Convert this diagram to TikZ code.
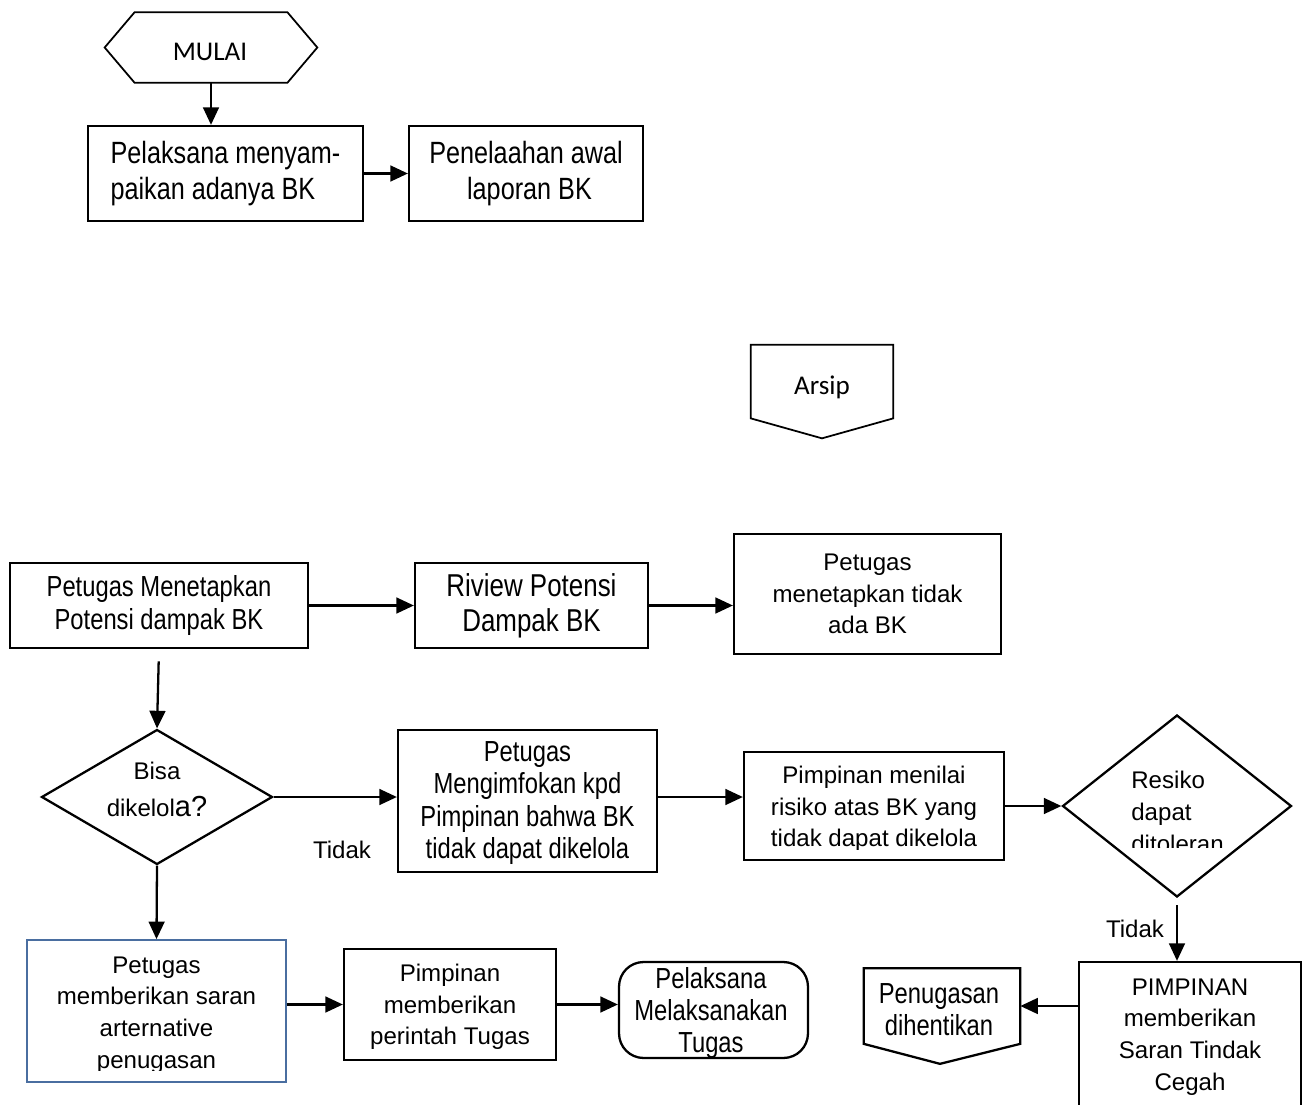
\documentclass[tikz,border=0pt]{standalone}
\usepackage{fontspec}
\setmainfont{Liberation Sans}
\newfontfamily\narrowfont{Liberation Sans}[FakeStretch=0.82]
\newfontfamily\calfont{Carlito}
\usetikzlibrary{arrows.meta,shapes.geometric,calc}
\definecolor{boxblue}{RGB}{74,110,160}
\tikzset{
  box/.style={draw, line width=1.3pt, inner sep=0pt, align=center},
  dia/.style={draw, diamond, line width=1.3pt, inner sep=0pt},
  arr/.style={-{Triangle[length=10pt,width=9pt]}, line width=1.3pt},
  reg/.style={font=\fontsize{13.7}{18}\selectfont},
  nar/.style={font=\narrowfont\fontsize{16.5}{18.3}\selectfont},
  big/.style={font=\narrowfont\fontsize{17.5}{20.5}\selectfont},
  cal/.style={font=\calfont\fontsize{15.4}{18}\selectfont},
  txt/.style={inner sep=0pt, align=center},
}
\begin{document}
\begin{tikzpicture}[x=0.02cm,y=-0.02cm]
\useasboundingbox[fill=white] (0,0) rectangle (1309,1105);

% MULAI
\node[minimum width=3.04cm, minimum height=1.4cm, inner sep=0pt] (mulai) at (211,47.5) {};
\draw[line width=1pt] (mulai.north west) -- (mulai.north east) -- ($(mulai.east)+(30,0)$)
  -- (mulai.south east) -- (mulai.south west) -- ($(mulai.west)+(-30,0)$) -- cycle;
\node[cal, txt] (mulait) at (210,52) {MULAI};

\node[box, big, align=left, minimum width=5.5cm, minimum height=1.9cm] (A) at (225.5,173.5) {Pelaksana menyam-\\paikan adanya BK};
\node[box, big, minimum width=4.68cm, minimum height=1.9cm] (B) at (526,173.5) {Penelaahan awal\\\ laporan BK};

% Arsip
\node[minimum width=2.84cm, minimum height=1.46cm, inner sep=0pt] (arsip) at (822,381.5) {};
\draw[line width=1pt] (arsip.south west) -- (arsip.north west) -- (arsip.north east) -- (arsip.south east)
  -- ($(arsip.south)+(0,20)$) -- cycle;
\node[cal, txt] (arsipt) at (822,387) {Arsip};

% Row 1
\node[box, nar, minimum width=5.96cm, minimum height=1.7cm] (C) at (159,605.5) {Petugas Menetapkan\\Potensi dampak BK};
\node[box, font=\narrowfont\fontsize{18}{20}\selectfont, minimum width=4.66cm, minimum height=1.7cm] (D) at (531.5,605.5) {Riview Potensi\\Dampak BK};
\node[box, reg, minimum width=5.34cm, minimum height=2.4cm] (E) at (867.5,594) {Petugas\\menetapkan tidak\\ada BK};

% Row 2
\node[dia, minimum width=4.62cm, minimum height=2.7cm] (F) at (157,797) {};
\node[txt, font=\fontsize{13.7}{21}\selectfont] (Ft) at (157,789) {Bisa\\dikelol{\fontsize{16.5}{21}\selectfont a?}};
\node[box, nar, minimum width=5.18cm, minimum height=2.84cm] (G) at (527.5,801) {};
\node[txt, nar] (Gt) at (527.5,803) {Petugas\\Mengimfokan kpd\\Pimpinan bahwa BK\\tidak dapat dikelola};
\node[box, minimum width=5.2cm, minimum height=2.16cm] (H) at (874,806) {};
\begin{scope}
  \clip (744,752) rectangle (1004,849);
  \node[txt, reg] (Ht) at (874,809) {Pimpinan menilai\\risiko atas BK yang\\tidak dapat dikelola};
\end{scope}
\node[dia, minimum width=4.58cm, minimum height=3.64cm] (I) at (1177,806) {};
\begin{scope}
  \clip (1062,715) rectangle (1291,847);
  \node[txt, reg, align=left, anchor=west] (It) at (1131,812) {Resiko\\dapat\\ditoleran};
\end{scope}
\node[reg, inner sep=0pt] (t1) at (342,850) {Tidak};
\node[reg, inner sep=0pt] (t2) at (1135,929) {Tidak};

% Row 3
\node[box, draw=boxblue, line width=1pt, minimum width=5.18cm, minimum height=2.84cm] (L) at (156.5,1011) {};
\begin{scope}
  \clip (27,940) rectangle (286,1070);
  \node[txt, reg] (Lt) at (156.5,1015) {Petugas\\memberikan saran\\arternative\\penugasan};
\end{scope}
\node[box, reg, minimum width=4.24cm, minimum height=2.22cm] (M) at (450,1004.5) {};
\node[txt, reg] (Mt) at (450,1007) {Pimpinan\\memberikan\\perintah Tugas};
\node[box, rounded corners=14pt, minimum width=3.78cm, minimum height=1.92cm] (N) at (713.5,1010) {};
\node[txt, nar] (Nt) at (711,1013) {Pelaksana\\Melaksanakan\\Tugas};
\node[txt, minimum width=3.12cm, minimum height=1.5cm] (K) at (942,1006) {};
\draw[line width=1.3pt] (K.south west) -- (K.north west) -- (K.north east) -- (K.south east)
  -- ($(K.south)+(-2,20)$) -- cycle;
\node[txt, nar] (Kt) at (939,1010) {Penugasan\\dihentikan};
\node[box, reg, minimum width=4.44cm, minimum height=2.92cm] (J) at (1190,1035) {};
\node[txt, reg] (Jt) at (1190,1037) {PIMPINAN\\memberikan\\Saran Tindak\\Cegah};

% Connectors
\draw[arr] (mulai.south) -- (mulai.south |- A.north);
\draw[arr] (A.east) -- (B.west);
\draw[arr] (C.east) -- (D.west);
\draw[arr] (D.east) -- (D.east -| E.west);
\draw[arr, shorten <=7pt] (C.south) -- (F.north);
\draw[arr] (F.east) -- (F.east -| G.west);
\draw[arr] (F.east -| G.east) -- (F.east -| H.west);
\draw[arr] (H.east) -- (I.west);
\draw[arr, shorten <=4pt] (I.south) -- (I.south |- J.north);
\draw[arr] (K.east -| J.west) -- (K.east);
\draw[arr] (F.south) -- (L.north);
\draw[arr] (L.east |- M.west) -- (M.west);
\draw[arr] (M.east) -- (M.east -| N.west);
\end{tikzpicture}
\end{document}
